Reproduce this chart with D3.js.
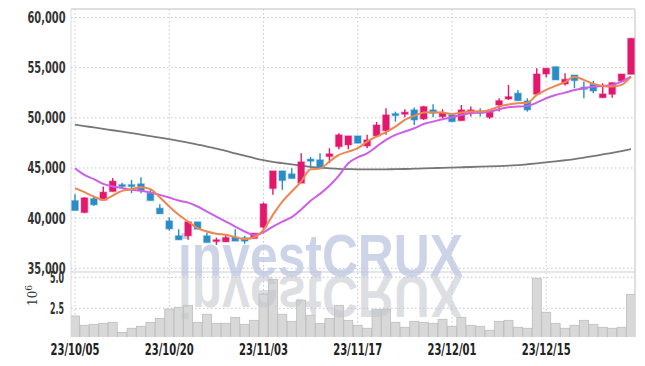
<!DOCTYPE html>
<html><head><meta charset="utf-8">
<script src="https://cdn.jsdelivr.net/npm/d3@7/dist/d3.min.js"></script>
<style>body{margin:0;background:#fff}svg{display:block}</style></head>
<body>
<svg id="c" width="645" height="366"></svg>
<script>
const dates = ["23/10/05","23/10/06","23/10/10","23/10/11","23/10/12","23/10/13","23/10/16","23/10/17","23/10/18","23/10/19",
"23/10/20","23/10/23","23/10/24","23/10/25","23/10/26","23/10/27","23/10/30","23/10/31","23/11/01","23/11/02",
"23/11/03","23/11/06","23/11/07","23/11/08","23/11/09","23/11/10","23/11/13","23/11/14","23/11/15","23/11/16",
"23/11/17","23/11/20","23/11/21","23/11/22","23/11/23","23/11/24","23/11/27","23/11/28","23/11/29","23/11/30",
"23/12/01","23/12/04","23/12/05","23/12/06","23/12/07","23/12/08","23/12/11","23/12/12","23/12/13","23/12/14",
"23/12/15","23/12/18","23/12/19","23/12/20","23/12/21","23/12/22","23/12/26","23/12/27","23/12/28","23/12/29"];
const open  = [41750,40560,41950,41790,42650,43340,43340,43420,42490,40990,39730,38240,38240,39630,38240,37670,37640,38110,38040,37970,
39100,42950,44710,44410,43490,45880,45810,46140,47130,47300,48200,47200,48200,48720,50420,50360,50790,49890,50790,50120,
50290,49720,50560,50690,50060,51280,51880,52450,51680,52350,54370,55100,53380,54270,53050,53350,52010,52350,53680,54340];
const high  = [42390,42100,42220,43150,43990,43540,43820,44080,42890,41390,40100,38900,39630,39630,38570,38070,38340,38900,38240,38500,
41550,44710,44710,44980,46480,46080,46480,46970,48470,48200,48200,48300,49590,50960,50620,50860,51020,51190,51350,50860,
50290,51280,51120,50960,50690,51950,53280,52780,51950,54940,54940,55100,54440,54270,53610,53680,53440,53510,54370,57920];
const low   = [40750,40500,41230,41790,42650,43020,42490,42490,41750,40430,38770,37840,37840,38900,37570,37340,37640,37710,37440,37970,
38830,42320,42820,43950,43490,44980,44980,45480,46870,46870,47470,46970,48200,48300,49620,50060,49290,49790,50060,49960,
49620,49720,50120,50120,49890,50620,51780,51710,50620,52350,54040,53780,53210,52950,51950,52450,52010,52010,53680,54340];
const close = [40760,42020,41330,42590,43690,43150,43150,42750,41750,40430,38930,37840,39630,38900,37570,37840,38070,37710,37710,38500,
41420,44710,43750,43950,45610,45680,44980,46410,48300,48200,47470,47800,49290,50290,50220,50560,49790,51120,50460,50520,
49620,50790,50790,50460,50560,51710,52110,51710,50790,54370,54940,53780,53840,53710,52850,52680,52380,53510,54370,57920];
// volume in millions of shares
const volume = [1.88,1.13,1.21,1.29,1.37,0.56,0.89,1.05,1.37,1.69,2.44,2.58,2.74,1.37,2.02,1.29,1.29,1.77,1.21,1.53,
3.65,4.84,2.02,1.45,3.15,1.94,1.29,1.69,2.74,1.53,1.13,0.89,2.42,2.42,1.37,0.97,1.45,1.37,1.29,1.61,
1.05,1.77,1.13,1.05,0.73,1.45,1.53,0.97,0.89,4.92,2.18,1.29,0.89,1.13,1.53,1.21,0.97,0.89,0.97,3.63];
const ma5 = [42990,42590,42150,41820,42250,42720,42890,43090,42890,42090,41160,40330,39660,39000,38670,38440,38340,38110,37910,38090,
38840,40330,41650,42650,43650,44880,44940,45640,46310,46630,46970,47630,48130,48580,49120,49790,50190,50520,50560,50520,
50390,50520,50620,50620,50790,51120,51320,51450,51510,52280,52780,53180,53550,54100,53780,53380,53180,53110,53280,54100];
const ma20 = [44980,44310,43890,43420,43150,42990,42820,42720,42550,42320,42050,41750,41550,41160,40660,40160,39660,39160,38670,38310,
38590,39160,39660,40100,40870,41740,42420,43220,44230,45480,46060,46460,47130,47800,48300,48630,48960,49390,49620,49860,
50060,50290,50460,50520,50620,50860,51060,51120,51190,51510,51950,52280,52510,52780,52950,53110,53180,53280,53610,54100];
const ma120 = [49320,49180,49040,48900,48760,48620,48480,48330,48180,48030,47870,47700,47520,47330,47140,46920,46700,46460,46230,45990,
45780,45610,45480,45350,45230,45120,45030,44970,44920,44890,44870,44860,44860,44870,44880,44900,44930,44960,44990,45020,
45040,45070,45100,45130,45160,45190,45230,45290,45370,45460,45560,45660,45770,45890,46040,46190,46350,46510,46690,46870];
const priceTicks = [35000,40000,45000,50000,55000,60000];
const volTicks = [2.5,5.0];
const xLabels = ["23/10/05","23/10/20","23/11/03","23/11/17","23/12/01","23/12/15"];

const svg = d3.select("#c");
const L=71, R=635, T=9, SEP=272, VB=337;
const x = d3.scalePoint().domain(dates).range([75,631]);
const y = d3.scaleLinear().domain([35000,60000]).range([268.3,17.5]);
const yv = d3.scaleLinear().domain([0,5]).range([339.3,277.3]);
const UP="#e2186c", DOWN="#2b8dc6", GRID="#c4c6d6";

const defs = svg.append("defs");
defs.append("clipPath").attr("id","cp").append("rect").attr("x",L).attr("y",T).attr("width",R-L).attr("height",SEP-T);
defs.append("clipPath").attr("id","cv").append("rect").attr("x",L).attr("y",SEP).attr("width",R-L).attr("height",VB-SEP);
const lg = defs.append("linearGradient").attr("id","fade")
  .attr("gradientUnits","userSpaceOnUse").attr("x1",0).attr("x2",0).attr("y1",276).attr("y2",304);
lg.append("stop").attr("offset",0).attr("stop-color","#c2c4cc").attr("stop-opacity",0.55);
lg.append("stop").attr("offset",1).attr("stop-color","#c2c4cc").attr("stop-opacity",0);

// frame
svg.append("line").attr("x1",L).attr("x2",R).attr("y1",T).attr("y2",T).attr("stroke","#d4d4d4").attr("stroke-width",1.5);
svg.append("line").attr("x1",R).attr("x2",R).attr("y1",T).attr("y2",VB).attr("stroke","#d4d4d4").attr("stroke-width",1.5);
svg.append("line").attr("x1",L).attr("x2",L).attr("y1",T).attr("y2",VB).attr("stroke","#dcdce4").attr("stroke-width",1);

// grids
const g = svg.append("g");
g.selectAll(".hp").data(priceTicks).join("line").attr("x1",L).attr("x2",R)
  .attr("y1",d=>y(d)).attr("y2",d=>y(d)).attr("stroke",GRID).attr("stroke-dasharray","1.5,2.5");
g.selectAll(".hv").data(volTicks).join("line").attr("x1",L).attr("x2",R)
  .attr("y1",d=>yv(d)).attr("y2",d=>yv(d)).attr("stroke",GRID).attr("stroke-dasharray","1.5,2.5");
g.selectAll(".vx").data(xLabels).join("line").attr("x1",d=>x(d)).attr("x2",d=>x(d))
  .attr("y1",T).attr("y2",VB).attr("stroke",GRID).attr("stroke-dasharray","1.5,2.5");
svg.append("line").attr("x1",L).attr("x2",R).attr("y1",SEP).attr("y2",SEP).attr("stroke","#cfcfcf").attr("stroke-width",1.2);

// volume bars
const idx = d3.range(dates.length);
svg.append("g").attr("clip-path","url(#cv)").selectAll("rect").data(idx).join("rect")
  .attr("x",i=>x(dates[i])-4.5).attr("width",9)
  .attr("y",i=>yv(volume[i])).attr("height",i=>yv(0)-yv(volume[i]))
  .attr("fill","#d8d8d8").attr("stroke","#bdbdbd").attr("stroke-width",0.8);

// watermark
const wm = svg.append("g").attr("pointer-events","none");
wm.append("text").attr("x",178).attr("y",276).attr("font-family","Liberation Sans, Arial, sans-serif")
  .attr("font-weight","bold").attr("font-size",60).attr("textLength",285).attr("lengthAdjust","spacingAndGlyphs")
  .attr("fill","#bcc5e0").attr("fill-opacity",0.75).text("investCRUX");
wm.append("text").attr("x",178).attr("y",276).attr("transform","translate(0,552) scale(1,-1)")
  .attr("font-family","Liberation Sans, Arial, sans-serif")
  .attr("font-weight","bold").attr("font-size",60).attr("textLength",285).attr("lengthAdjust","spacingAndGlyphs")
  .attr("fill","url(#fade)").text("investCRUX");

// price panel
const pp = svg.append("g").attr("clip-path","url(#cp)");
const line = arr => d3.line().x((d,i)=>x(dates[i])).y(d=>y(d)).curve(d3.curveMonotoneX)(arr);
pp.append("path").attr("d",line(ma120)).attr("fill","none").attr("stroke","#777").attr("stroke-width",1.8);
const c = pp.append("g").selectAll("g").data(idx).join("g");
c.append("line").attr("x1",i=>x(dates[i])).attr("x2",i=>x(dates[i]))
  .attr("y1",i=>y(high[i])).attr("y2",i=>y(low[i]))
  .attr("stroke",i=>close[i]>=open[i]?UP:DOWN).attr("stroke-width",1.4);
c.append("rect").attr("x",i=>x(dates[i])-3.3).attr("width",6.6)
  .attr("y",i=>y(Math.max(open[i],close[i])))
  .attr("height",i=>Math.max(1.5,Math.abs(y(open[i])-y(close[i]))))
  .attr("fill",i=>close[i]>=open[i]?UP:DOWN)
  .attr("stroke",i=>close[i]>=open[i]?UP:DOWN).attr("stroke-opacity",0.35).attr("stroke-width",1.5);
pp.append("path").attr("d",line(ma20)).attr("fill","none").attr("stroke","#cc5ee8").attr("stroke-width",2);
pp.append("path").attr("d",line(ma5)).attr("fill","none").attr("stroke","#ef8650").attr("stroke-width",2);

// axis labels
const FONT = "'Liberation Sans Narrow','DejaVu Sans Condensed','Roboto',sans-serif";
const fmt = d3.format(",");
svg.append("g").selectAll("text").data(priceTicks).join("text")
  .attr("x",65.5).attr("y",d=>y(d)+5.5).attr("text-anchor","end")
  .attr("font-family",FONT).attr("font-size",15).attr("font-weight","bold").attr("fill","#333")
  .attr("textLength",38).attr("lengthAdjust","spacingAndGlyphs").text(d=>fmt(d));
svg.append("g").selectAll("text").data(volTicks).join("text")
  .attr("x",64).attr("y",d=>yv(d)+5.5).attr("text-anchor","end")
  .attr("font-family",FONT).attr("font-size",15).attr("font-weight","bold").attr("fill","#333")
  .attr("textLength",14).attr("lengthAdjust","spacingAndGlyphs").text(d=>d.toFixed(1));
const ex = svg.append("text").attr("transform","translate(37,306) rotate(-90)")
  .attr("font-family","'DejaVu Serif',serif").attr("font-size",12).attr("fill","#333");
ex.append("tspan").text("10");
ex.append("tspan").attr("dy",-5).attr("font-size",9).text("6");
svg.append("g").selectAll("text").data(xLabels).join("text")
  .attr("x",d=>x(d)).attr("y",355).attr("text-anchor","middle")
  .attr("font-family",FONT).attr("font-size",15).attr("font-weight","bold").attr("fill","#222")
  .attr("textLength",49).attr("lengthAdjust","spacingAndGlyphs").text(d=>d);
</script>
</body></html>
